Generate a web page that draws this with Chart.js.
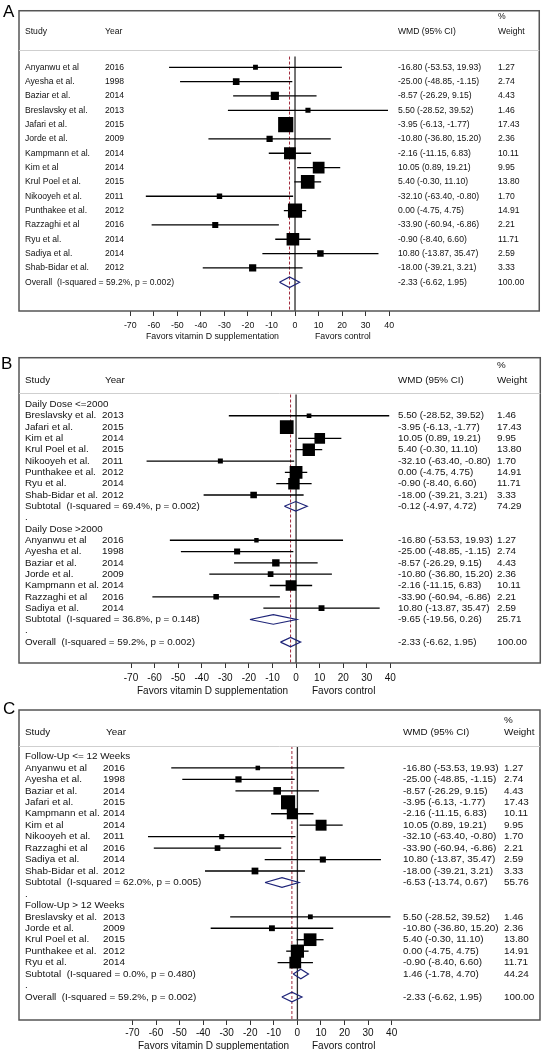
<!DOCTYPE html>
<html>
<head>
<meta charset="utf-8">
<script src="https://cdn.jsdelivr.net/npm/chart.js@4.4.1/dist/chart.umd.min.js"></script>
<style>
html,body{margin:0;padding:0;background:#fff;}
body{width:550px;height:1050px;position:relative;overflow:hidden;}
canvas{position:absolute;left:0;}
</style>
</head>
<body>
<canvas id="pA" width="550" height="348" style="top:0px"></canvas>
<canvas id="pB" width="550" height="352" style="top:348px"></canvas>
<canvas id="pC" width="550" height="350" style="top:700px"></canvas>
<script>
// ---------------- DATA ----------------
const studies = ["Anyanwu et al","Ayesha et al.","Baziar et al.","Breslavsky et al.","Jafari et al.","Jorde et al.","Kampmann et al.","Kim et al","Krul Poel et al.","Nikooyeh et al.","Punthakee et al.","Razzaghi et al","Ryu et al.","Sadiya et al.","Shab-Bidar et al."];
const years = [2016,1998,2014,2013,2015,2009,2014,2014,2015,2011,2012,2016,2014,2014,2012];
const wmd = [-16.80,-25.00,-8.57,5.50,-3.95,-10.80,-2.16,10.05,5.40,-32.10,0.00,-33.90,-0.90,10.80,-18.00];
const ciLow = [-53.53,-48.85,-26.29,-28.52,-6.13,-36.80,-11.15,0.89,-0.30,-63.40,-4.75,-60.94,-8.40,-13.87,-39.21];
const ciHigh = [19.93,-1.15,9.15,39.52,-1.77,15.20,6.83,19.21,11.10,-0.80,4.75,-6.86,6.60,35.47,3.21];
const weights = [1.27,2.74,4.43,1.46,17.43,2.36,10.11,9.95,13.80,1.70,14.91,2.21,11.71,2.59,3.33];

const overallStats = [-2.33,-6.62,1.95,100.00];   // estimate, low, high, weight
const overallHet = [59.2,0.002];                   // I-squared, p

const doseGroups = ["Daily Dose <=2000","Daily Dose >2000"];
const doseMembers = [
  ["Breslavsky et al.","Jafari et al.","Kim et al","Krul Poel et al.","Nikooyeh et al.","Punthakee et al.","Ryu et al.","Shab-Bidar et al."],
  ["Anyanwu et al","Ayesha et al.","Baziar et al.","Jorde et al.","Kampmann et al.","Razzaghi et al","Sadiya et al."]
];
const doseSubEst = [-0.12,-9.65];
const doseSubLow = [-4.97,-19.56];
const doseSubHigh = [4.72,0.26];
const doseSubWeight = [74.29,25.71];
const doseSubI2 = [69.4,36.8];
const doseSubP = [0.002,0.148];

const fuGroups = ["Follow-Up <= 12 Weeks","Follow-Up > 12 Weeks"];
const fuMembers = [
  ["Anyanwu et al","Ayesha et al.","Baziar et al.","Jafari et al.","Kampmann et al.","Kim et al","Nikooyeh et al.","Razzaghi et al","Sadiya et al.","Shab-Bidar et al."],
  ["Breslavsky et al.","Jorde et al.","Krul Poel et al.","Punthakee et al.","Ryu et al."]
];
const fuSubEst = [-6.53,1.46];
const fuSubLow = [-13.74,-1.78];
const fuSubHigh = [0.67,4.70];
const fuSubWeight = [55.76,44.24];
const fuSubI2 = [62.0,0.0];
const fuSubP = [0.005,0.480];

const xTicks = [-70,-60,-50,-40,-30,-20,-10,0,10,20,30,40];
const axisLabels = ["Favors vitamin D supplementation","Favors control"];
const headers = ["Study","Year","WMD (95% CI)","%","Weight"];

// ---------------- LAYOUT / STYLE ----------------
const FONT = "'Liberation Sans', Arial, Helvetica, sans-serif";
Chart.defaults.font.family = FONT;

const panelA = {id:'pA', canvasTop:0, canvasH:348, boxLeft:19, boxRight:543, boxTop:3, boxBottom:311, row0:61, rowSp:14.7, zero:297, pxPerUnit:2.37, font:8.6, tickFont:8.8, tickPad:4, nameX:25, yearX:105, yearHeadX:105, wmdX:398, wX:498, pctY:17, headY:32, sepY:50, favY:337, favLX:146, favRX:315, letter:'A', letterX:3, letterY:17, dHalf:0.37, sqK:3.4};
const panelB = {id:'pB', canvasTop:348, canvasH:352, boxLeft:19, boxRight:543, boxTop:356, boxBottom:663, row0:403, rowSp:11.38, zero:297.5, pxPerUnit:2.37, font:9.8, tickFont:10, tickPad:4, nameX:25, yearX:102, yearHeadX:105, wmdX:398, wX:497, pctY:365, headY:380, sepY:393, favY:691, favLX:137, favRX:312, letter:'B', letterX:1, letterY:369, dHalf:0.42, sqK:3.05};
const panelC = {id:'pC', canvasTop:700, canvasH:350, boxLeft:19, boxRight:543, boxTop:710, boxBottom:1020, row0:756.5, rowSp:11.45, zero:299, pxPerUnit:2.37, font:9.9, tickFont:10, tickPad:2, nameX:25, yearX:103, yearHeadX:106, wmdX:403, wX:504, pctY:720, headY:732, sepY:746, favY:1046, favLX:138, favRX:312, letter:'C', letterX:3, letterY:714, dHalf:0.42, sqK:3.15};

// ---------------- ROWS ----------------
function rowsPlain(){
  const r = studies.map((_,i)=>({kind:'study',i}));
  r.push({kind:'overall'});
  return r;
}
function rowsGrouped(labels, members, est, lo, hi, w, i2, p){
  const r = [];
  labels.forEach((lab,g)=>{
    r.push({kind:'group',label:lab});
    members[g].forEach(n=>r.push({kind:'study',i:studies.indexOf(n)}));
    r.push({kind:'sub',est:est[g],lo:lo[g],hi:hi[g],w:w[g],i2:i2[g],p:p[g]});
    r.push({kind:'dot'});
  });
  r.push({kind:'overall'});
  return r;
}
const fmtCI = (e,l,h)=>`${e.toFixed(2)} (${l.toFixed(2)}, ${h.toFixed(2)})`;
const fmtHet = (i2,p)=>`(I-squared = ${i2.toFixed(1)}%, p = ${p.toFixed(3)})`;

const lineDS = (data,color,width,order)=>({type:'scatter',data,showLine:true,borderColor:color,borderWidth:width,pointRadius:0,pointHoverRadius:0,fill:false,tension:0,order});

function makePanel(P, rows){
  const yMin = -(P.row0 - P.boxTop)/P.rowSp;
  const yMax = yMin + (P.boxBottom - P.boxTop)/P.rowSp;
  const xMin = (P.boxLeft - P.zero)/P.pxPerUnit;
  const xMax = (P.boxRight - P.zero)/P.pxPerUnit;
  const yOf = px => yMin + (px - P.boxTop)/P.rowSp;
  const ds = [];
  const topVal = yOf(P.sepY);
  // reference lines
  ds.push(lineDS([{x:0,y:topVal},{x:0,y:yMax}],'#2a2a2a',1.3,10));
  ds.push(Object.assign(lineDS([{x:overallStats[0],y:topVal},{x:overallStats[0],y:yMax}],'#a0283a',1,9),{borderDash:[3,2]}));
  // CI lines
  rows.forEach((r,k)=>{
    if(r.kind==='study') ds.push(lineDS([{x:ciLow[r.i],y:k},{x:ciHigh[r.i],y:k}],'#000',1.3,5));
  });
  // squares
  const sq = [];
  rows.forEach((r,k)=>{ if(r.kind==='study') sq.push({x:wmd[r.i],y:k,w:weights[r.i]}); });
  ds.push({type:'scatter',data:sq.map(p=>({x:p.x,y:p.y})),pointStyle:'rect',
    pointRadius:sq.map(p=>(P.sqK*Math.sqrt(p.w)+1)/Math.SQRT2),pointHoverRadius:sq.map(p=>(P.sqK*Math.sqrt(p.w)+1)/Math.SQRT2),
    backgroundColor:'#000',borderColor:'#000',borderWidth:0,pointBorderWidth:0,order:3});
  // diamonds
  rows.forEach((r,k)=>{
    let e,l,h;
    if(r.kind==='sub'){e=r.est;l=r.lo;h=r.hi;}
    else if(r.kind==='overall'){e=overallStats[0];l=overallStats[1];h=overallStats[2];}
    else return;
    const d = P.dHalf;
    ds.push(lineDS([{x:l,y:k},{x:e,y:k-d},{x:h,y:k},{x:e,y:k+d},{x:l,y:k}],'#1e2478',1.2,2));
  });

  const off = P.canvasTop;
  const textPlugin = {
    id:'forestText'+P.id,
    afterDraw(chart){
      const ctx = chart.ctx, ys = chart.scales.y, ca = chart.chartArea;
      ctx.save();
      // box
      ctx.strokeStyle = '#555'; ctx.lineWidth = 1.5;
      ctx.strokeRect(ca.left, ca.top, ca.right-ca.left, ca.bottom-ca.top);
      // header separator
      ctx.strokeStyle = '#cfcfcf'; ctx.lineWidth = 1;
      ctx.beginPath(); ctx.moveTo(ca.left, P.sepY-off+0.5); ctx.lineTo(ca.right, P.sepY-off+0.5); ctx.stroke();
      // text
      ctx.fillStyle = '#111'; ctx.textBaseline = 'middle'; ctx.textAlign = 'left';
      ctx.font = `${P.font}px ${FONT}`;
      ctx.fillText(headers[0], P.nameX, P.headY-off);
      ctx.fillText(headers[1], P.yearHeadX, P.headY-off);
      ctx.fillText(headers[2], P.wmdX, P.headY-off);
      ctx.fillText(headers[3], P.wX, P.pctY-off);
      ctx.fillText(headers[4], P.wX, P.headY-off);
      rows.forEach((r,k)=>{
        const y = ys.getPixelForValue(k);
        if(r.kind==='study'){
          ctx.fillText(studies[r.i], P.nameX, y);
          ctx.fillText(String(years[r.i]), P.yearX, y);
          ctx.fillText(fmtCI(wmd[r.i],ciLow[r.i],ciHigh[r.i]), P.wmdX, y);
          ctx.fillText(weights[r.i].toFixed(2), P.wX, y);
        } else if(r.kind==='group'){
          ctx.fillText(r.label, P.nameX, y);
        } else if(r.kind==='sub'){
          ctx.fillText('Subtotal  '+fmtHet(r.i2,r.p), P.nameX, y);
          ctx.fillText(fmtCI(r.est,r.lo,r.hi), P.wmdX, y);
          ctx.fillText(r.w.toFixed(2), P.wX, y);
        } else if(r.kind==='dot'){
          ctx.fillText('.', P.nameX, y);
        } else if(r.kind==='overall'){
          ctx.fillText('Overall  '+fmtHet(overallHet[0],overallHet[1]), P.nameX, y);
          ctx.fillText(fmtCI(overallStats[0],overallStats[1],overallStats[2]), P.wmdX, y);
          ctx.fillText(overallStats[3].toFixed(2), P.wX, y);
        }
      });
      // axis captions
      ctx.font = `${P.tickFont}px ${FONT}`;
      ctx.fillText(axisLabels[0], P.favLX, P.favY-off);
      ctx.fillText(axisLabels[1], P.favRX, P.favY-off);
      // panel letter
      ctx.font = `17px ${FONT}`; ctx.textBaseline = 'alphabetic'; ctx.fillStyle = '#000';
      ctx.fillText(P.letter, P.letterX, P.letterY-off);
      ctx.restore();
    }
  };

  const boxBottomRel = P.boxBottom - off;
  return new Chart(document.getElementById(P.id), {
    type:'scatter',
    data:{datasets:ds},
    options:{
      responsive:false, animation:false, devicePixelRatio:1, events:[],
      layout:{padding:{left:P.boxLeft, right:550-P.boxRight, top:P.boxTop-off, bottom:P.canvasH-boxBottomRel-20}},
      plugins:{legend:{display:false}, tooltip:{enabled:false}},
      scales:{
        x:{type:'linear', min:xMin, max:xMax, bounds:'data',
          afterBuildTicks: s=>{ s.ticks = xTicks.map(v=>({value:v})); },
          afterFit: s=>{ s.height = 20; },
          grid:{drawOnChartArea:false, drawTicks:true, tickLength:5, color:'#333', lineWidth:1},
          border:{display:false},
          ticks:{autoSkip:false, maxRotation:0, minRotation:0, padding:P.tickPad, color:'#111',
            font:{size:P.tickFont, family:FONT}, callback:v=>String(v)}
        },
        y:{type:'linear', display:false, reverse:true, min:yMin, max:yMax}
      }
    },
    plugins:[textPlugin]
  });
}

makePanel(panelA, rowsPlain());
makePanel(panelB, rowsGrouped(doseGroups, doseMembers, doseSubEst, doseSubLow, doseSubHigh, doseSubWeight, doseSubI2, doseSubP));
makePanel(panelC, rowsGrouped(fuGroups, fuMembers, fuSubEst, fuSubLow, fuSubHigh, fuSubWeight, fuSubI2, fuSubP));
</script>
</body>
</html>
